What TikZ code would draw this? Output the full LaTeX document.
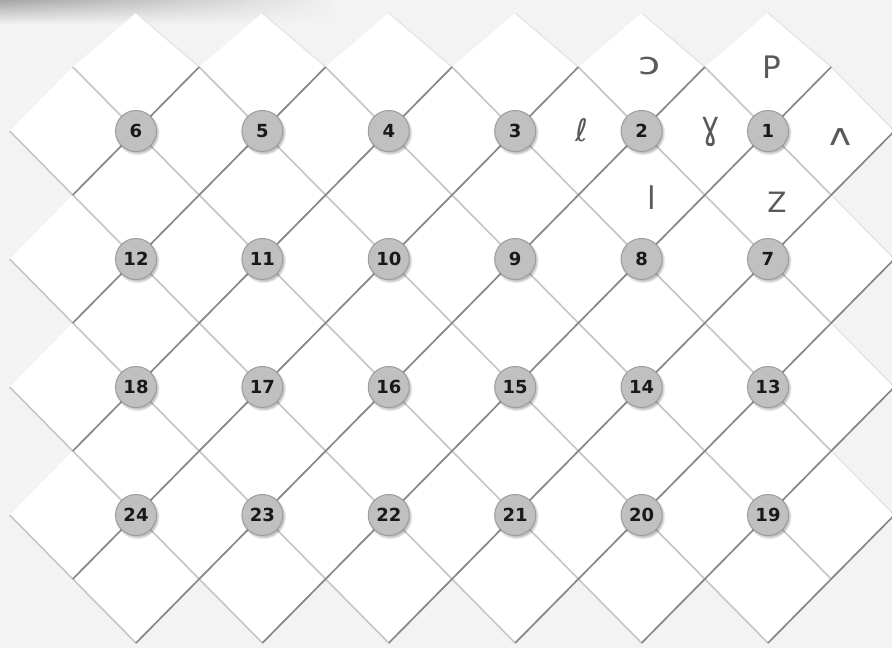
\documentclass[tikz,border=0pt]{standalone}
\usepackage{fontspec}
\setmainfont{DejaVu Sans}
\usetikzlibrary{fadings,shadows}
\definecolor{bg}{HTML}{F3F3F3}
\definecolor{edgedark}{HTML}{868686}
\definecolor{edgelight}{HTML}{C6C6C6}
\definecolor{edgefaint}{HTML}{E4E4E4}
\definecolor{nodefill}{HTML}{C0C0C0}
\definecolor{nodeedge}{HTML}{9C9C9C}
\definecolor{handink}{HTML}{5A5A5A}
\newcommand\forAllTiles[1]{%
  \foreach \j in {-1,...,7}{%
    \pgfmathtruncatemacro\jodd{mod(\j+2,2)}%
    \ifnum\jodd=1 \def\kmax{5}\def\ioff{0}\else\def\kmax{6}\def\ioff{-1}\fi
    \foreach \k in {0,...,\kmax}{%
      \pgfmathsetmacro\xc{136+63.2*(2*\k+\ioff)}%
      \pgfmathsetmacro\xl{\xc-63.2}%
      \pgfmathsetmacro\xr{\xc+63.2}%
      \pgfmathsetmacro\yc{131+64*\j}%
      \pgfmathsetmacro\yt{\j==-1 ? 13 : \yc-64}%
      \pgfmathsetmacro\yb{\yc+64}%
      #1
    }%
  }%
}
\begin{document}
\begin{tikzpicture}[x=1pt,y=-1pt,
  tilefill/.style={fill=white},
  darkedge/.style={draw=edgedark,line width=1.7pt},
  lightedge/.style={draw=edgelight,line width=1.6pt},
  faintedge/.style={draw=edgefaint,line width=1.2pt},
  num/.style={circle,minimum size=41pt,inner sep=0pt,fill=nodefill,draw=nodeedge,
    line width=1pt,font=\fontsize{18}{18}\selectfont\bfseries,text=black!90,
    circular drop shadow={shadow xshift=1pt,shadow yshift=-1.5pt,opacity=0.25,fill=black}},
  hand/.style={font=\fontsize{31}{31}\selectfont,text=handink,inner sep=0pt}]
\useasboundingbox (0,0) rectangle (892,648);
\fill[bg] (0,0) rectangle (892,648);
\shade[left color=black!35,right color=bg,path fading=south] (0,0) rectangle (340,24);
% tiles
\forAllTiles{\fill[tilefill] (\xc,\yt) -- (\xr,\yc) -- (\xc,\yb) -- (\xl,\yc) -- cycle;}
\forAllTiles{\draw[faintedge] (\xc,\yt) -- (\xr,\yc);}
\forAllTiles{\draw[lightedge] (\xc,\yb) -- (\xl,\yc);}
\forAllTiles{\draw[darkedge] (\xr,\yc) -- (\xc,\yb);}
% numbered nodes
\foreach \r in {0,...,3}{
  \foreach \c in {0,...,5}{
    \pgfmathtruncatemacro\nn{6*\r+6-\c}
    \node[num] (n\nn) at ({136+126.4*\c},{131+128*\r}) {\nn};
  }
}
% handwritten marks
\node[hand,xscale=1.3] (h1) at (650,66) {ɔ};
\node[hand] (h2) at (772,67) {P};
\node[hand] (h3) at (582,130) {ℓ};
\node[hand,yscale=1.25] (h4) at (711,132) {ɣ};
\node[hand,xscale=1.2] (h5) at (840,137) {ʌ};
\node[hand,yscale=1.4] (h6) at (652,197) {ı};
\node[hand,font=\fontsize{28}{28}\selectfont] (h7) at (777,202) {Z};
\end{tikzpicture}
\end{document}
